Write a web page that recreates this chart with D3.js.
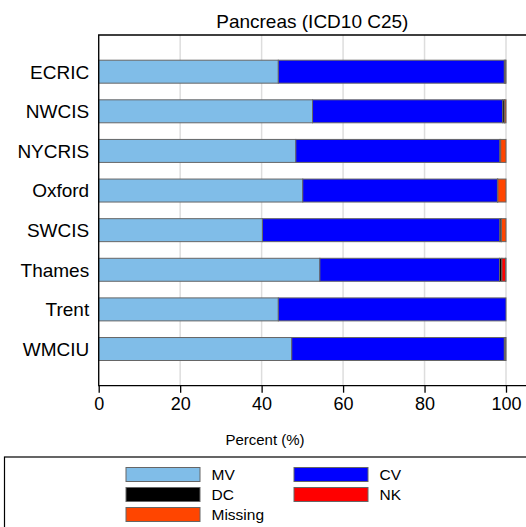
<!DOCTYPE html>
<html>
<head>
<meta charset="utf-8">
<script src="https://cdn.jsdelivr.net/npm/d3@7"></script>
<style>
  body { margin: 0; background: #fff; }
  text { font-family: "Liberation Sans", Arial, sans-serif; fill: #000; }
</style>
</head>
<body>
<svg id="chart" width="526" height="527"></svg>
<script>
// registries and % of cases by basis of diagnosis
var registries = ["ECRIC","NWCIS","NYCRIS","Oxford","SWCIS","Thames","Trent","WMCIU"];
var mv      = [44.1, 52.5, 48.4, 50.1, 40.2, 54.3, 44.1, 47.4];
var cv      = [55.5, 46.7, 50.1, 47.8, 58.3, 44.1, 55.9, 52.2];
var dc      = [0.3, 0.4, 0.2, 0.1, 0.3, 0.6, 0, 0.2];
var nk      = [0.1, 0.1, 0, 0, 0.1, 0.9, 0, 0.1];
var missing = [0, 0.3, 1.3, 2.0, 1.1, 0.1, 0, 0.1];
var xTicks  = [0, 20, 40, 60, 80, 100];

var seriesNames  = ["MV","CV","DC","NK","Missing"];
var seriesColors = ["#80bde8","#0000ff","#000000","#ff0000","#ff4500"];

var svg = d3.select("#chart");
// (window.top is reserved, so plot edges get their own names)
var plotLeft = 98.7, plotTop = 35, plotBottom = 385.7, plotRight = 526;

//x : 0 at 98.7, 100 at 506
var x = d3.scaleLinear().domain([0, 100]).range([plotLeft, 506]);
var y = d3.scaleBand().domain(registries).range([plotTop, plotBottom])
    .paddingInner(0.42).paddingOuter(0.636);

// table for the stack
var rows = registries.map(function(r, i){
    return {reg: r, MV: mv[i], CV: cv[i], DC: dc[i], NK: nk[i], Missing: missing[i]};
});
var stacked = d3.stack().keys(seriesNames)(rows);

//grid lines
svg.append("g").selectAll("line")
    .data(xTicks)
    .enter().append("line")
    .attr("x1", function(d){ return x(d); })
    .attr("x2", function(d){ return x(d); })
    .attr("y1", plotTop).attr("y2", plotBottom)
    .attr("stroke", "#dddddd")
    .attr("stroke-width", 1.5);

//bars
svg.append("g").selectAll("g")
    .data(stacked)
    .enter().append("g")
    .attr("fill", function(d, i){ return seriesColors[i]; })
    .selectAll("rect")
    .data(function(d){ return d.filter(function(s){ return s[1] - s[0] > 0; }); })
    .enter().append("rect")
    .attr("x", function(d){ return x(d[0]); })
    .attr("width", function(d){ return x(d[1]) - x(d[0]); })
    .attr("y", function(d){ return y(d.data.reg); })
    .attr("height", y.bandwidth())
    .attr("stroke", "#666666")
    .attr("stroke-width", 1);

//frame (left, top, bottom)
svg.append("path")
    .attr("d", "M" + plotRight + "," + plotTop + "H" + plotLeft + "V" + plotBottom + "H" + plotRight)
    .attr("fill", "none")
    .attr("stroke", "#000")
    .attr("stroke-width", 1.3);

//x axis
var xAxis = svg.append("g")
    .attr("transform", "translate(0," + plotBottom + ")")
    .call(d3.axisBottom(x).tickValues(xTicks).tickSize(7).tickPadding(5));
xAxis.select(".domain").remove();
xAxis.selectAll("line").attr("stroke", "#000").attr("stroke-width", 1.3);
xAxis.selectAll("text")
    .style("font-family", '"Liberation Sans", Arial, sans-serif')
    .style("font-size", "18px")
    .attr("fill", "#000");

//y labels
svg.append("g").selectAll("text")
    .data(registries)
    .enter().append("text")
    .attr("x", plotLeft - 9.5)
    .attr("y", function(d){ return y(d) + y.bandwidth() / 2; })
    .attr("dy", "0.36em")
    .attr("text-anchor", "end")
    .style("font-size", "19px")
    .text(function(d){ return d; });

//title
svg.append("text")
    .attr("x", (plotLeft + plotRight) / 2)
    .attr("y", 28)
    .attr("text-anchor", "middle")
    .style("font-size", "19px")
    .text("Pancreas (ICD10 C25)");

svg.append("text")
    .attr("x", 265)
    .attr("y", 445)
    .attr("text-anchor", "middle")
    .style("font-size", "15px")
    .text("Percent (%)");

//legend
svg.append("rect")
    .attr("x", 4.5).attr("y", 457)
    .attr("width", 540).attr("height", 100)
    .attr("fill", "none")
    .attr("stroke", "#000")
    .attr("stroke-width", 1.2);

var legend = svg.append("g").selectAll("g")
    .data(seriesNames)
    .enter().append("g")
    .attr("transform", function(d, i){
        var col = i % 2, row = Math.floor(i / 2);
        return "translate(" + (126 + col * 168) + "," + (467.5 + row * 20) + ")";
    });
legend.append("rect")
    .attr("width", 74).attr("height", 14)
    .attr("fill", function(d, i){ return seriesColors[i]; })
    .attr("stroke", "#666666");
legend.append("text")
    .attr("x", 85.5).attr("y", 7)
    .attr("dy", "0.36em")
    .style("font-size", "15.5px")
    .text(function(d){ return d; });
</script>
</body>
</html>
